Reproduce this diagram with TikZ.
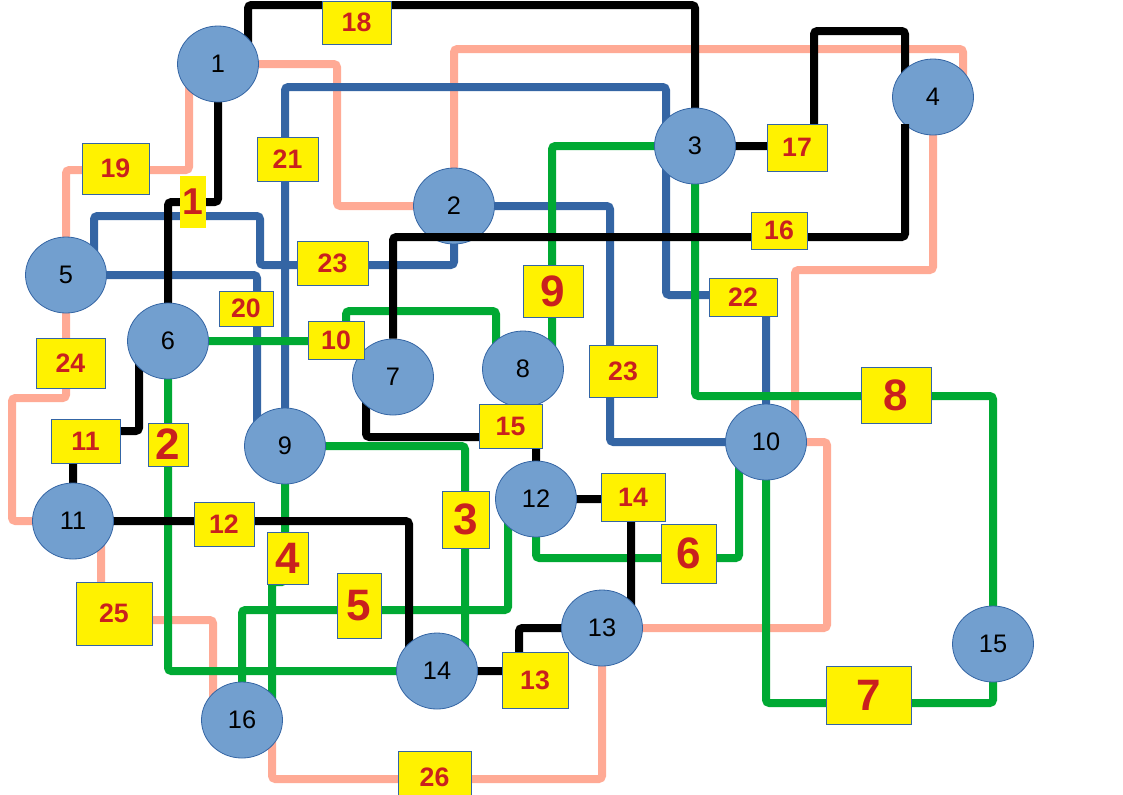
\documentclass[tikz,border=0pt]{standalone}
\usepackage{fontspec}
\setmainfont{Liberation Sans}
\usetikzlibrary{shapes.geometric,calc}
\pgfdeclarelayer{bg}
\pgfdeclarelayer{edges}
\pgfsetlayers{bg,edges,main}
\definecolor{nodefill}{HTML}{729FCF}
\definecolor{nodeline}{HTML}{3465A4}
\definecolor{lblue}{HTML}{3465A4}
\definecolor{lgreen}{HTML}{00A933}
\definecolor{lsalmon}{HTML}{FFAA95}
\definecolor{lred}{HTML}{C9211E}
\begin{document}
\begin{tikzpicture}[x=0.75pt,y=-0.75pt,
  vertex/.style={ellipse,fill=nodefill,draw=nodeline,line width=0.6pt,minimum width=60.75pt,minimum height=57pt,inner sep=0pt,font=\fontsize{19}{19}\selectfont},
  wire/.style={line width=6pt,rounded corners=2.5pt},
  kw/.style={wire,draw=black},
  gw/.style={wire,draw=lgreen},
  bw/.style={wire,draw=lblue},
  sw/.style={wire,draw=lsalmon},
  lab/.style 2 args={draw=nodeline,line width=0.75pt,fill=yellow,inner sep=0pt,minimum width=#1*0.75pt,minimum height=#2*0.75pt,text=lred,font=\bfseries\fontsize{20}{20}\selectfont},
  big/.style={font=\bfseries\fontsize{33}{33}\selectfont}
]
\useasboundingbox (0,0) rectangle (1123,794);
\begin{pgfonlayer}{bg}
\fill[white] (0,0) rectangle (1123,794);
\end{pgfonlayer}
% nodes
\node[vertex] (n1) at (218,64) {1};
\node[vertex] (n2) at (454,206) {2};
\node[vertex] (n3) at (695,146) {3};
\node[vertex] (n4) at (933,97) {4};
\node[vertex] (n5) at (66,275) {5};
\node[vertex] (n6) at (168,341) {6};
\node[vertex] (n7) at (393,377) {7};
\node[vertex] (n8) at (523,369) {8};
\node[vertex] (n9) at (285,446) {9};
\node[vertex] (n10) at (766,442) {10};
\node[vertex] (n11) at (73,521) {11};
\node[vertex] (n12) at (536,499) {12};
\node[vertex] (n13) at (602,628) {13};
\node[vertex] (n14) at (437,671) {14};
\node[vertex] (n15) at (993,644) {15};
\node[vertex] (n16) at (242,720) {16};
% edges under nodes
\begin{pgfonlayer}{edges}
% salmon
\draw[sw] (n1.center) -- (337,64) -- (337,206) -- (n2.center);
\draw[sw] (n2.center) -- (454,49) -- (963,49) -- ($(n4)+(30,0)$);
\draw[sw] (n4.center) -- (933,270) -- (795,270) -- ($(n10)+(29,0)$);
\draw[sw] (n10.center) -- (827,442) -- (827,628) -- (n13.center);
\draw[sw] ($(n1)+(-29,0)$) -- (189,170) -- (66,170) -- (n5.center);
\draw[sw] (n5.center) -- (66,398) -- (12,398) -- (12,521) -- (n11.center);
\draw[sw] ($(n11)+(28,0)$) -- (101,620) -- (213,620) -- ($(n16)+(-29,0)$);
\draw[sw] ($(n16)+(30,0)$) -- (272,779) -- (602,779) -- (n13.center);
% blue
\draw[bw] (n5.center) -- (257,275) -- ($(n9)+(-28,0)$);
\draw[bw] (n9.center) -- (285,87) -- (666,87) -- ($(n3)+(-29,0)$);
\draw[bw] ($(n3)+(-29,0)$) -- (666,295) -- (766,295) -- (n10.center);
\draw[bw] (n2.center) -- (454,265) -- (260,265) -- (260,216) -- (94,216) -- ($(n5)+(28,0)$);
\draw[bw] (n2.center) -- (610,206) -- (610,442) -- (n10.center);
% green
\draw[gw] (n6.center) -- (168,671) -- (n14.center);
\draw[gw] (n9.center) -- (465,446) -- ($(n14)+(28,0)$);
\draw[gw] (n9.center) -- (285,582) -- (272,582) -- ($(n16)+(30,0)$);
\draw[gw] (n16.center) -- (242,610) -- (508,610) -- ($(n12)+(-28,0)$);
\draw[gw] (n12.center) -- (536,558) -- (739,558) -- ($(n10)+(-27,0)$);
\draw[gw] (n10.center) -- (766,703) -- (993,703) -- (n15.center);
\draw[gw] (n3.center) -- (695,396) -- (993,396) -- (n15.center);
\draw[gw] (n3.center) -- (552,146) -- ($(n8)+(29,0)$);
\draw[gw] (n6.center) -- (346,341) -- (346,311) -- (496,311) -- ($(n8)+(-27,0)$);
% black
\draw[kw] (n1.center) -- (218,202) -- (168,202) -- (n6.center);
\draw[kw] ($(n1)+(30,0)$) -- (248,5) -- (695,5) -- (n3.center);
\draw[kw] ($(n6)+(-29,0)$) -- (139,431) -- (73,431) -- (n11.center);
\draw[kw] (n11.center) -- (409,521) -- ($(n14)+(-28,0)$);
\draw[kw] (n14.center) -- (519,671) -- (519,628) -- (n13.center);
\draw[kw] (n12.center) -- (631,499) -- ($(n13)+(29,0)$);
\draw[kw] ($(n7)+(-27,0)$) -- (366,437) -- (536,437) -- (n12.center);
\draw[kw] (n3.center) -- (814,146) -- (814,31) -- (905,31) -- ($(n4)+(-28,0)$);
\end{pgfonlayer}
% edge drawn over node 2
\draw[kw] (n7.north) -- (393,237) -- (905,237) -- ($(n4)+(-28,27)$);
% labels
\node[lab={69}{43}] (l18) at (356.5,22.5) {18};
\node[lab={67}{51}] (l19) at (115.5,168.5) {19};
\node[lab={26}{52},draw=none,font=\bfseries\fontsize{28}{28}\selectfont] (l1) at (193,202) {1};
\node[lab={61}{44}] (l21) at (287.5,159) {21};
\node[lab={71}{44}] (l23a) at (332.5,263) {23};
\node[lab={54}{35}] (l20) at (246,308.5) {20};
\node[lab={56}{38}] (l10) at (336,340) {10};
\node[lab={69}{50}] (l24) at (70.5,363) {24};
\node[lab={69}{44}] (l11) at (85.5,441) {11};
\node[lab={40}{43},big] (l2) at (168,444.5) {2};
\node[lab={60}{52},big] (l9) at (553,291) {9};
\node[lab={68}{38}] (l22) at (743,297) {22};
\node[lab={60}{47}] (l17) at (797,147.5) {17};
\node[lab={56}{37}] (l16) at (779,230.5) {16};
\node[lab={70}{56},big] (l8) at (896,395) {8};
\node[lab={68}{52}] (l23b) at (623,371) {23};
\node[lab={63}{44}] (l15) at (510.5,426) {15};
\node[lab={64}{48}] (l14) at (633,497) {14};
\node[lab={55}{59},big] (l6) at (688.5,553.5) {6};
\node[lab={47}{57},big] (l3) at (465.5,519.5) {3};
\node[lab={60}{44}] (l12) at (224,524) {12};
\node[lab={41}{52},big] (l4) at (287.5,558) {4};
\node[lab={44}{65},big] (l5) at (359,605.5) {5};
\node[lab={76}{63}] (l25) at (114,613.5) {25};
\node[lab={66}{56}] (l13) at (535,680) {13};
\node[lab={73}{52}] (l26) at (434.5,777) {26};
\node[lab={85}{58},big] (l7) at (868.5,695) {7};
\end{tikzpicture}
\end{document}
